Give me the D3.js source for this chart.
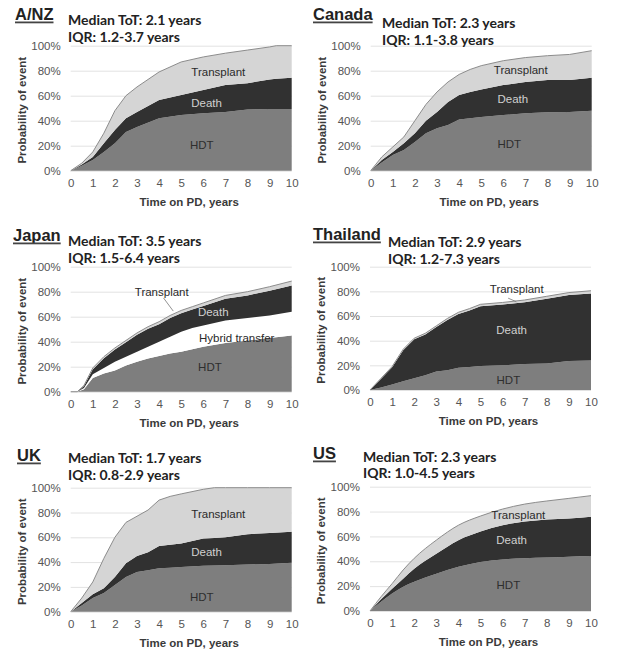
<!DOCTYPE html>
<html>
<head>
<meta charset="utf-8">
<script src="https://cdn.jsdelivr.net/npm/d3@7"></script>
<style>
  body { margin: 0; background: #fff; }
  text { font-family: "Liberation Sans", Arial, sans-serif; }
</style>
</head>
<body>
<svg id="chart" width="619" height="651"></svg>
<script>
// tick labels
const xTicks = [0, 1, 2, 3, 4, 5, 6, 7, 8, 9, 10];
const yTicks = [0, 20, 40, 60, 80, 100];
const layerKeys = ["HDT", "Hybrid", "Death", "Transplant"];

// A/NZ
const anzTime       = [0, 0.5, 1, 1.5, 2, 2.5, 3, 4, 5, 6, 7, 8, 9, 9.3, 10];
const anzHDT        = [0, 4, 8.5, 15, 22, 31, 35, 42, 44.5, 46, 47, 49, 49.3, 49.3, 49.3];
const anzDeath      = [0, 1, 2.5, 7, 10.5, 11, 12, 14.5, 16, 18.5, 21.5, 21, 23.7, 24.2, 25.1];
const anzTransplant = [0, 1, 4, 8, 15.5, 18, 20, 22.5, 26.5, 26.5, 25.5, 26.5, 26, 26.5, 25.6];

// Canada
const canTime       = [0, 0.5, 1, 1.5, 2, 2.5, 3, 3.5, 4, 4.5, 5, 6, 7, 8, 9, 10];
const canHDT        = [0, 6.5, 12.5, 16.5, 23, 30, 34, 36.5, 41, 42, 43, 44.5, 46, 46.7, 47, 48];
const canDeath      = [0, 2, 2.5, 5.5, 7, 10, 13, 18.5, 19.5, 21, 22, 24, 25, 25.8, 25.5, 26.4];
const canTransplant = [0, 2.5, 4, 5, 10, 13, 16, 16, 16.5, 18, 19, 19.5, 19.5, 19.5, 20.5, 21.6];

// Japan
const jpnTime       = [0, 0.3, 0.6, 1, 1.5, 2, 2.5, 3, 3.5, 4, 4.5, 5, 5.5, 6, 7, 8, 9, 10];
const jpnHDT        = [0, 0, 2, 11, 14.5, 17, 21, 24, 26.5, 28.5, 30.5, 32, 34, 36, 39, 41, 43, 45];
const jpnHybrid     = [0, 0, 1, 3, 4.5, 7, 7, 8, 9.5, 11.5, 13.5, 16, 17, 17, 18, 18, 18, 19];
const jpnDeath      = [0, 0, 1.5, 4, 7.8, 9.7, 11.5, 13.5, 14.3, 14, 15, 14.8, 14.7, 15.5, 17.3, 18, 19.8, 21];
const jpnTransplant = [0, 0, 0.5, 1, 1.2, 1.3, 1.5, 1.5, 1.7, 2, 2, 2.2, 2.3, 2.5, 2.7, 3, 3.2, 3.5];

// Thailand
const thaTime       = [0, 0.5, 1, 1.5, 2, 2.5, 3, 3.5, 4, 4.5, 5, 6, 7, 8, 9, 10];
const thaHDT        = [0, 2, 4.5, 7, 9.5, 12, 15, 16, 18, 18.6, 19.5, 20, 21, 21.5, 23.5, 24];
const thaDeath      = [0, 7.2, 14, 25.3, 31.7, 33, 36, 40.8, 43.7, 45.9, 48.5, 49.3, 50.2, 52.5, 53.5, 54.3];
const thaTransplant = [0, 0.3, 0.5, 0.7, 0.8, 1, 1, 1.2, 1.3, 1.5, 1.5, 1.7, 1.8, 2, 2, 2.2];

// UK
const ukTime        = [0, 0.5, 1, 1.5, 2, 2.5, 3, 3.5, 4, 4.5, 5, 6, 6.5, 7, 8, 9, 10];
const ukHDT         = [0, 5, 11, 15, 21.5, 28, 32, 33.5, 35, 35.5, 36, 37, 37.2, 37.5, 38, 38.5, 39.5];
const ukDeath       = [0, 2, 3, 4, 6.5, 11, 13, 14.5, 18, 18.5, 19, 22, 22.3, 22.5, 24.5, 25, 25];
const ukTransplant  = [0, 4, 10, 24, 32, 33, 32, 34, 37, 39, 40, 39.7, 40.5, 40, 37.5, 36.5, 35.5];

// US
const usTime        = [0, 0.5, 1, 1.5, 2, 3, 4, 5, 6, 7, 8, 9, 10];
const usHDT         = [0, 7.5, 14, 19.5, 23.5, 30, 35.5, 39.5, 41.5, 42.5, 43, 43.7, 44.2];
const usDeath       = [0, 2, 4, 6.5, 10.5, 16, 21.5, 24.5, 27.5, 29.5, 30.7, 30.8, 31.7];
const usTransplant  = [0, 2, 4, 7, 8.4, 11, 12, 12.4, 13, 14, 14.8, 16.1, 16.9];

const countries = ["A/NZ", "Canada", "Japan", "Thailand", "UK", "US"];
const medians = ["Median ToT: 2.1 years", "Median ToT: 2.3 years", "Median ToT: 3.5 years",
                 "Median ToT: 2.9 years", "Median ToT: 1.7 years", "Median ToT: 2.3 years"];
const iqrs = ["IQR: 1.2-3.7 years", "IQR: 1.1-3.8 years", "IQR: 1.5-6.4 years",
              "IQR: 1.2-7.3 years", "IQR: 0.8-2.9 years", "IQR: 1.0-4.5 years"];

const seriesByCountry = [
    { time: anzTime, HDT: anzHDT, Death: anzDeath, Transplant: anzTransplant },
    { time: canTime, HDT: canHDT, Death: canDeath, Transplant: canTransplant },
    { time: jpnTime, HDT: jpnHDT, Hybrid: jpnHybrid, Death: jpnDeath, Transplant: jpnTransplant },
    { time: thaTime, HDT: thaHDT, Death: thaDeath, Transplant: thaTransplant },
    { time: ukTime, HDT: ukHDT, Death: ukDeath, Transplant: ukTransplant },
    { time: usTime, HDT: usHDT, Death: usDeath, Transplant: usTransplant }
];

// layout of each panel (plot box, header text, in-area labels in data units)
const layout = [
    { left: 70.7, top: 45.7, h: 125, nameX: 15, nameY: 20, medX: 68, medY: 25, iqrY: 41.5,
      labels: [["Transplant", 6.68, 79.2], ["Death", 6.15, 53.9], ["HDT", 5.93, 20.6]] },
    { left: 370.7, top: 45.7, h: 125, nameX: 313, nameY: 20, medX: 382, medY: 27.5, iqrY: 44.5,
      labels: [["Transplant", 6.79, 80.6], ["Death", 6.43, 57.1], ["HDT", 6.27, 21.4]] },
    { left: 70.7, top: 266.7, h: 125, nameX: 13, nameY: 241, medX: 68, medY: 246, iqrY: 263,
      labels: [["Transplant", 4.12, 80], ["Death", 6.45, 64], ["Hybrid transfer", 7.51, 42.7], ["HDT", 6.3, 20]],
      leader: [[4.2, 75], [4.64, 64.5]] },
    { left: 370, top: 266.7, h: 123.3, nameX: 313, nameY: 240, medX: 388, medY: 246.5, iqrY: 263.5,
      labels: [["Transplant", 6.64, 82.3], ["Death", 6.41, 48.6], ["HDT", 6.26, 8.1]],
      leader: [[6.25, 74.5], [6.62, 71.6]] },
    { left: 70.7, top: 487.7, h: 124, nameX: 17, nameY: 461, medX: 68, medY: 463, iqrY: 480,
      labels: [["Transplant", 6.68, 78.7], ["Death", 6.15, 48], ["HDT", 5.93, 12]] },
    { left: 370, top: 486.7, h: 124.3, nameX: 313, nameY: 459, medX: 363, medY: 461.5, iqrY: 478,
      labels: [["Transplant", 6.71, 77.2], ["Death", 6.41, 57.1], ["HDT", 6.26, 20.9]] }
];

const fills = { HDT: "#7e7e7e", Hybrid: "#ffffff", Death: "#313131", Transplant: "#d5d5d5" };
const labelColors = { "Transplant": "#2a2a2a", "Death": "#d0d0d0", "Hybrid transfer": "#2a2a2a", "HDT": "#2e2e2e" };
const plotWidth = 221;

const svg = d3.select("#chart");

seriesByCountry.forEach((s, i) => {
    const lay = layout[i];
    const g = svg.append("g");

    const x = d3.scaleLinear().domain([0, 10]).range([lay.left, lay.left + plotWidth]);
    const y = d3.scaleLinear().domain([0, 100]).range([lay.top + lay.h, lay.top]);

    // gridlines
    g.append("g")
        .attr("transform", `translate(${lay.left},0)`)
        .call(d3.axisLeft(y).tickValues(yTicks).tickSize(-plotWidth).tickFormat(d => d + "%").tickPadding(10))
        .call(a => a.select(".domain").remove())
        .call(a => a.selectAll("line").attr("stroke", "#e2e2e2"))
        .call(a => a.selectAll("text").attr("fill", "#555").style("font-size", "11.5px"));

    const rows = s.time.map((t, j) => {
        const r = { t: t };
        layerKeys.forEach(k => { r[k] = s[k] ? s[k][j] : 0; });
        return r;
    });

    const keys = layerKeys.filter(k => s[k]);
    const stacked = d3.stack().keys(keys)(rows);
    const curve = i === 5 ? d3.curveMonotoneX : d3.curveLinear;

    const area = d3.area()
        .x(d => x(d.data.t))
        .y0(d => y(d[0]))
        .y1(d => y(d[1]))
        .curve(curve);

    g.selectAll(".layer")
        .data(stacked)
        .enter().append("path")
        .attr("class", "layer")
        .attr("fill", d => fills[d.key])
        .attr("d", area);

    // outline along the top of the stack
    const topLayer = stacked[stacked.length - 1];
    const line = d3.line()
        .x(d => x(d.data.t))
        .y(d => y(d[1]))
        .curve(curve);
    g.append("path")
        .datum(topLayer)
        .attr("fill", "none")
        .attr("stroke", "#8c8c8c")
        .attr("stroke-width", 1)
        .attr("d", line);

    // x axis labels
    g.append("g")
        .attr("transform", `translate(0,${lay.top + lay.h})`)
        .call(d3.axisBottom(x).tickValues(xTicks).tickSize(0).tickPadding(8))
        .call(a => a.select(".domain").remove())
        .call(a => a.selectAll("text").attr("fill", "#555").style("font-size", "11.5px"));

    // axis titles
    g.append("text")
        .attr("x", lay.left + plotWidth / 2 + 8)
        .attr("y", lay.top + lay.h + 35)
        .attr("text-anchor", "middle")
        .attr("fill", "#3a3a3a")
        .style("font-size", "11.5px")
        .style("font-weight", "bold")
        .text("Time on PD, years");

    g.append("text")
        .attr("transform", `translate(${lay.left - 45},${lay.top + lay.h / 2 + 2}) rotate(-90)`)
        .attr("text-anchor", "middle")
        .attr("fill", "#3a3a3a")
        .style("font-size", "11.5px")
        .style("font-weight", "bold")
        .text("Probability of event");

    // in-area labels
    if (lay.leader) {
        g.append("line")
            .attr("x1", x(lay.leader[0][0])).attr("y1", y(lay.leader[0][1]))
            .attr("x2", x(lay.leader[1][0])).attr("y2", y(lay.leader[1][1]))
            .attr("stroke", "#777").attr("stroke-width", 0.8);
    }
    lay.labels.forEach(l => {
        g.append("text")
            .attr("x", x(l[1]))
            .attr("y", y(l[2]))
            .attr("dy", "0.35em")
            .attr("text-anchor", "middle")
            .attr("fill", labelColors[l[0]])
            .style("font-size", "11.5px")
            .text(l[0]);
    });

    // header
    const name = g.append("text")
        .attr("x", lay.nameX)
        .attr("y", lay.nameY)
        .attr("fill", "#222")
        .style("font-size", "16.5px")
        .style("font-weight", "bold")
        .text(countries[i]);
    const w = name.node().getComputedTextLength();
    g.append("rect")
        .attr("x", lay.nameX)
        .attr("y", lay.nameY + 1.5)
        .attr("width", w)
        .attr("height", 1.8)
        .attr("fill", "#444");

    g.append("text")
        .attr("x", lay.medX)
        .attr("y", lay.medY)
        .attr("fill", "#222")
        .style("font-family", "Lato, 'Open Sans', sans-serif")
        .style("font-size", "14px")
        .style("font-weight", "bold")
        .text(medians[i]);
    g.append("text")
        .attr("x", lay.medX)
        .attr("y", lay.iqrY)
        .attr("fill", "#222")
        .style("font-family", "Lato, 'Open Sans', sans-serif")
        .style("font-size", "14px")
        .style("font-weight", "bold")
        .text(iqrs[i]);
});
</script>
</body>
</html>
